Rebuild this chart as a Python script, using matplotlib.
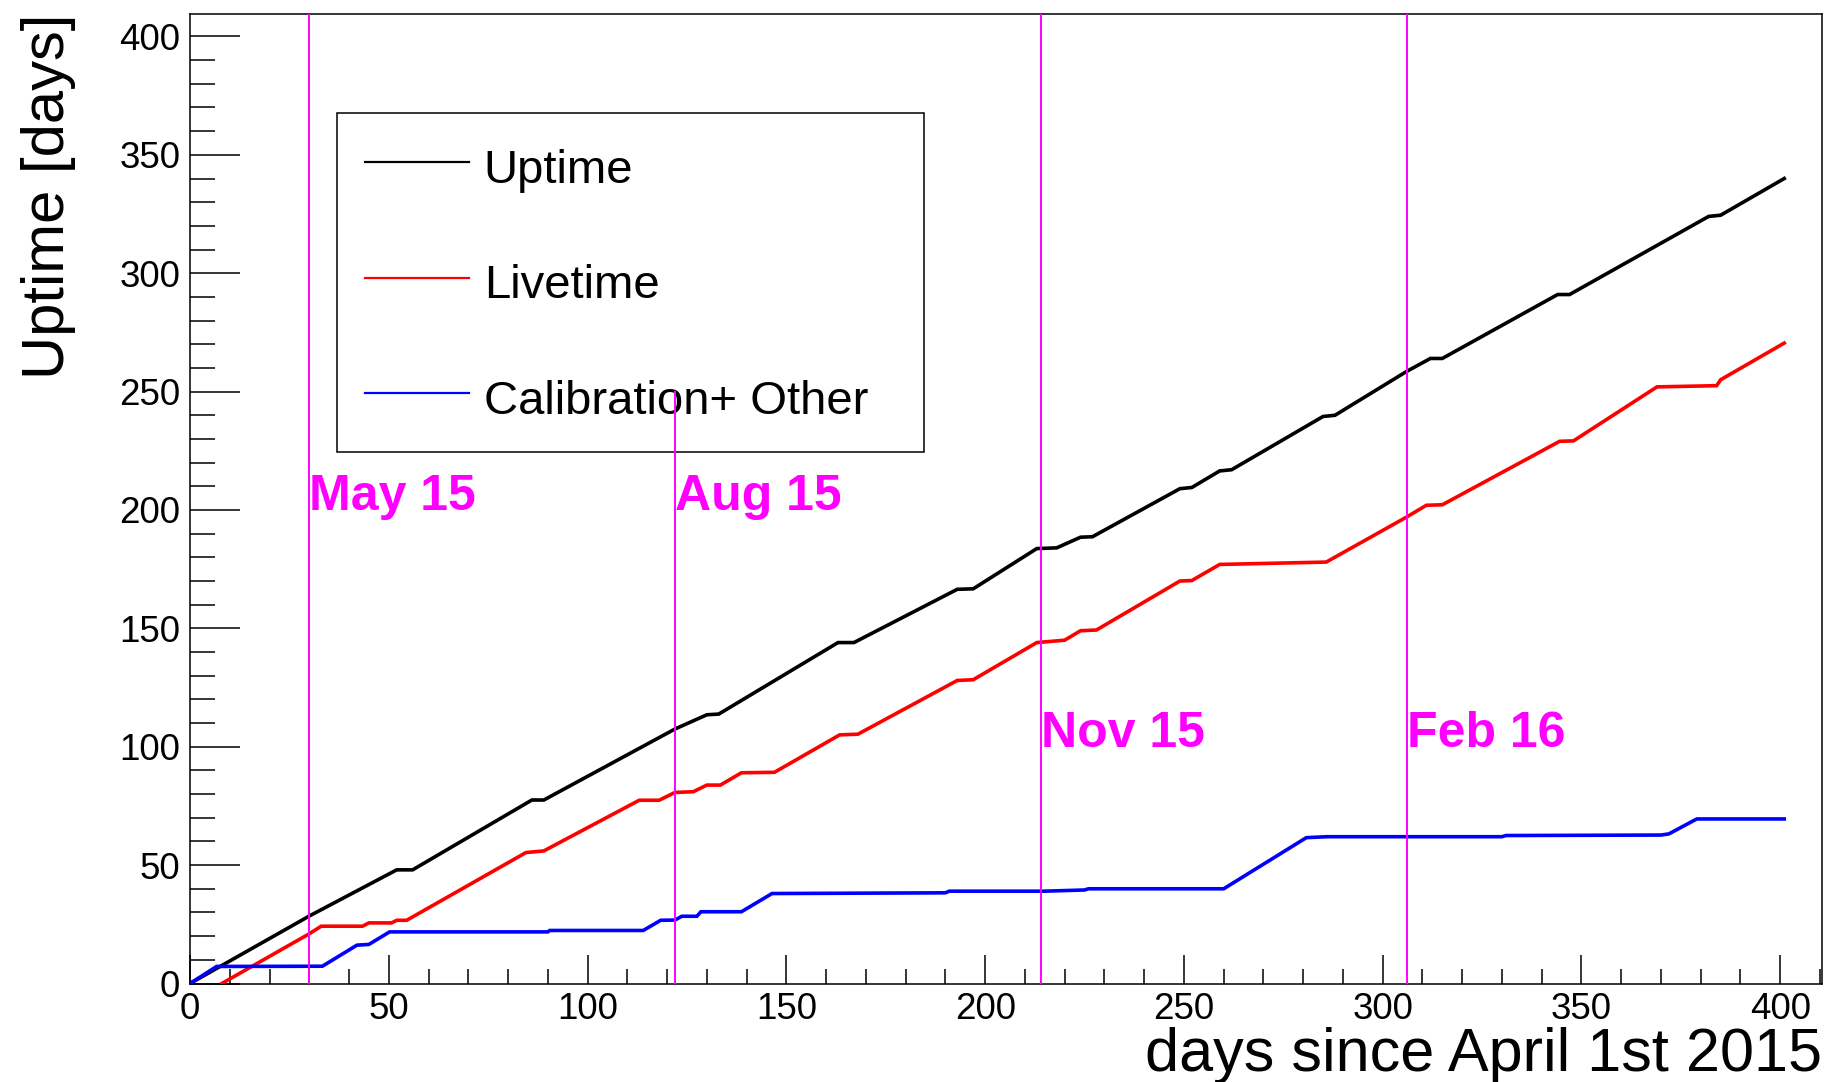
import matplotlib
matplotlib.use("Agg")
import matplotlib.pyplot as plt
from matplotlib.ticker import MultipleLocator

plt.rcParams['font.family'] = ['Liberation Sans', 'DejaVu Sans']

# ---- data ----
uptime_x = [0, 30, 52, 56, 86, 89, 122, 130, 133, 163, 167, 193, 197, 213, 218, 224, 227,
            249, 252, 259, 262, 285, 288, 306, 312, 315, 344, 347, 382, 385, 401]
uptime_y = [0, 28.5, 48, 48, 77.5, 77.5, 107.5, 113.5, 113.8, 144, 144, 166.5, 166.7, 183.7, 184,
            188.5, 188.7, 209, 209.5, 216.5, 217, 239.5, 240, 258.5, 264, 264, 291, 291, 324,
            324.5, 340]

livetime_x = [8, 30, 33, 43.4, 45, 50.7, 52, 54.5, 84.5, 89, 113, 118, 122, 126.6, 130, 133.4,
              138.7, 147, 163.4, 168, 193, 197, 213, 220, 224, 228, 249, 252, 259, 285.8, 306,
              311, 315, 344.5, 348, 369, 384, 385, 401]
livetime_y = [0, 21, 24.2, 24.2, 25.6, 25.6, 26.7, 26.7, 55.3, 56, 77.4, 77.4, 80.7, 81, 83.8,
              83.8, 89, 89.2, 105, 105.3, 128, 128.3, 144, 145, 149, 149.3, 170, 170.2, 177, 178,
              197, 202, 202.2, 229, 229.2, 252, 252.5, 255, 270.5]

calib_x = [0, 6.7, 33.3, 42, 45, 50.2, 90, 90.5, 114, 118.4, 122, 123.7, 127.5, 128.5, 138.7,
           146.4, 190, 191, 215, 225, 226, 260, 280.8, 286, 330, 331, 370, 372, 379, 401]
calib_y = [0, 7.2, 7.3, 16.2, 16.5, 21.8, 21.8, 22.4, 22.4, 26.7, 26.8, 28.4, 28.4, 30.3, 30.3,
           38, 38.3, 39, 39, 39.5, 40, 40, 61.6, 62, 62, 62.5, 62.7, 63.2, 69.5, 69.5]

series_labels = ["Uptime", "Livetime", "Calibration+ Other"]
series_colors = ["#000000", "#ff0000", "#0000ff"]

marker_days = [30, 122, 214, 306]
marker_tops = [None, 250, None, None]
marker_labels = ["May 15", "Aug 15", "Nov 15", "Feb 16"]
marker_label_y = [200, 200, 100, 100]

x_ticks = [0, 50, 100, 150, 200, 250, 300, 350, 400]
y_ticks = [0, 50, 100, 150, 200, 250, 300, 350, 400]

# ---- figure ----
W, H = 1829, 1082
fig = plt.figure(figsize=(W / 100, H / 100), dpi=100)
ax = fig.add_axes([190 / W, (H - 983.5) / H, 1632 / W, 970 / H])
xmax, ymax = 410.5, 409.7
ax.set_xlim(0, xmax)
ax.set_ylim(0, ymax)

for xs, ys, lab, col in zip([uptime_x, livetime_x, calib_x], [uptime_y, livetime_y, calib_y],
                            series_labels, series_colors):
    ax.plot(xs, ys, color=col, lw=2.6, label=lab, zorder=3, solid_joinstyle='miter')

for d, top, lab, ly in zip(marker_days, marker_tops, marker_labels, marker_label_y):
    ax.plot([d, d], [0, ymax if top is None else top], color="#ff00ff", lw=1.4, zorder=6,
            clip_on=True)
    ax.text(d, ly, lab, color="#ff00ff", fontsize=36, fontweight='bold', ha='left',
            va='baseline', zorder=7)

ax.set_xticks(x_ticks)
ax.set_yticks(y_ticks)
ax.xaxis.set_minor_locator(MultipleLocator(10))
ax.yaxis.set_minor_locator(MultipleLocator(10))
ax.tick_params(axis='both', which='both', direction='in', top=False, right=False,
               width=1.1, color='black')
ax.tick_params(axis='y', which='major', length=36, pad=7, labelsize=26.5)
ax.tick_params(axis='y', which='minor', length=18)
ax.tick_params(axis='x', which='major', length=21, pad=6, labelsize=26.5)
ax.tick_params(axis='x', which='minor', length=11)
for sp in ax.spines.values():
    sp.set_linewidth(1.1)
    sp.set_color('black')

ax.set_xlabel("days since April 1st 2015", fontsize=44, loc='right')
ax.xaxis.set_label_coords(1.0, -0.045)
ax.set_ylabel("Uptime [days]", fontsize=43, loc='top')
ax.yaxis.set_label_coords(-0.070, 1.0)

leg = ax.legend(loc='upper left', bbox_to_anchor=(0.090, 0.549, 0.3598, 0.3485),
                mode='expand', fontsize=34, frameon=True, fancybox=False, shadow=False,
                framealpha=1, edgecolor='black', borderpad=0.6, labelspacing=1.36,
                handlelength=2.19, handleheight=1.29, handletextpad=0.32, borderaxespad=0)
leg.get_frame().set_linewidth(1.1)
for ln in leg.get_lines():
    ln.set_linewidth(1.6)

fig.savefig("out.png", dpi=100, facecolor='white')
